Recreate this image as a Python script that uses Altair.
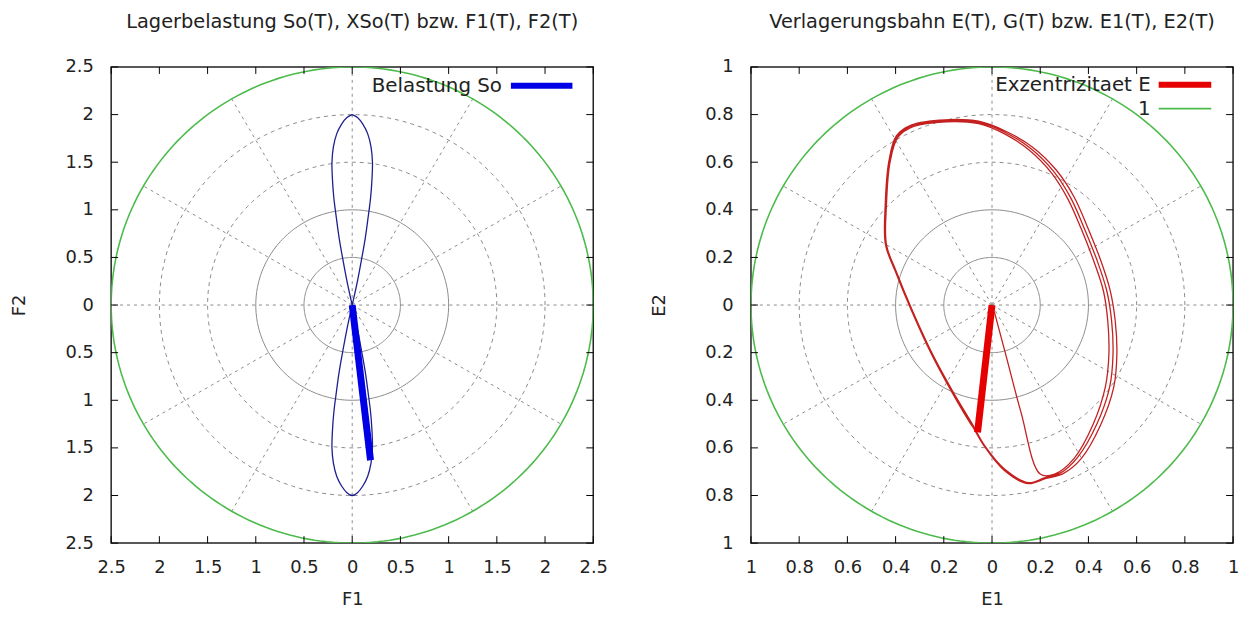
import altair as alt
import numpy as np
import pandas as pd

FONT = "DejaVu Sans"
FS = 18

# ---------------- left panel data ----------------
left_title = "Lagerbelastung So(T), XSo(T) bzw. F1(T), F2(T)"
left_ticks = [-2.5, -2, -1.5, -1, -0.5, 0, 0.5, 1, 1.5, 2, 2.5]
left_rings_solid = [0.5, 1.0]
left_rings_dashed = [1.5, 2.0]
left_outer = 2.5

so_x = [0.0, -0.055, -0.11, -0.16, -0.195, -0.21, -0.205, -0.19, -0.165, -0.135, -0.097, -0.056, -0.018, 0.0,
        0.018, 0.056, 0.097, 0.135, 0.165, 0.19, 0.205, 0.21, 0.195, 0.16, 0.11, 0.055, 0.0,
        -0.055, -0.11, -0.16, -0.195, -0.21, -0.205, -0.19, -0.165, -0.135, -0.097, -0.056, -0.018, 0.0,
        0.018, 0.056, 0.097, 0.135, 0.165, 0.19, 0.205, 0.21, 0.195, 0.16, 0.11, 0.055, 0.0]
so_y = [2.0, 1.97, 1.9, 1.8, 1.66, 1.5, 1.32, 1.12, 0.92, 0.7, 0.48, 0.26, 0.08, 0.0,
        -0.08, -0.26, -0.48, -0.7, -0.92, -1.12, -1.32, -1.5, -1.66, -1.8, -1.9, -1.97, -2.0,
        -1.97, -1.9, -1.8, -1.66, -1.5, -1.32, -1.12, -0.92, -0.7, -0.48, -0.26, -0.08, 0.0,
        0.08, 0.26, 0.48, 0.7, 0.92, 1.12, 1.32, 1.5, 1.66, 1.8, 1.9, 1.97, 2.0]
so_vec_x = [0.0, 0.19]
so_vec_y = [0.0, -1.63]

# ---------------- right panel data ----------------
right_title = "Verlagerungsbahn E(T), G(T) bzw. E1(T), E2(T)"
right_ticks = [-1, -0.8, -0.6, -0.4, -0.2, 0, 0.2, 0.4, 0.6, 0.8, 1]
right_rings_solid = [0.2, 0.4]
right_rings_dashed = [0.6, 0.8]
right_outer = 1.0

e_x = [0.01, 0.06, 0.12, 0.20,
       0.26, 0.34, 0.42, 0.47, 0.485, 0.48, 0.462, 0.422, 0.37, 0.315, 0.248, 0.155, 0.05, -0.056, -0.19,
       -0.325, -0.39, -0.423, -0.438, -0.438, -0.398, -0.33, -0.248, -0.166, -0.084, -0.029, 0.053, 0.15, 0.22,
       0.285, 0.355, 0.435, 0.488, 0.502, 0.496, 0.476, 0.436, 0.382, 0.327, 0.258, 0.162, 0.053, -0.056, -0.192,
       -0.33, -0.394, -0.426, -0.441, -0.441, -0.4, -0.332, -0.25, -0.168, -0.086, -0.03, 0.05, 0.148, 0.225,
       0.295, 0.37, 0.45, 0.505, 0.518, 0.511, 0.49, 0.45, 0.395, 0.34, 0.268, 0.17, 0.057, -0.056, -0.195,
       -0.333, -0.397, -0.428, -0.443, -0.442, -0.401, -0.333, -0.251, -0.17, -0.088, -0.062]
e_y = [-0.03, -0.22, -0.45, -0.71,
       -0.71, -0.645, -0.5, -0.345, -0.205, -0.065, 0.06, 0.185, 0.32, 0.445, 0.553, 0.65, 0.72, 0.762, 0.77,
       0.75, 0.705, 0.6, 0.42, 0.254, 0.143, -0.024, -0.204, -0.357, -0.496, -0.593, -0.69, -0.746, -0.725,
       -0.705, -0.64, -0.5, -0.345, -0.205, -0.065, 0.06, 0.187, 0.324, 0.449, 0.558, 0.656, 0.726, 0.767, 0.774,
       0.754, 0.708, 0.601, 0.421, 0.254, 0.142, -0.025, -0.206, -0.36, -0.5, -0.596, -0.694, -0.75, -0.728,
       -0.708, -0.645, -0.505, -0.345, -0.205, -0.065, 0.062, 0.19, 0.33, 0.455, 0.565, 0.662, 0.73, 0.772, 0.778,
       0.757, 0.711, 0.603, 0.422, 0.254, 0.141, -0.026, -0.207, -0.36, -0.5, -0.535]
e_vec_x = [0.0, -0.06]
e_vec_y = [0.0, -0.535]

spoke_angles = [0, 30, 60, 90, 120, 150, 180, 210, 240, 270, 300, 330]

W, H = 486, 480
GRID = "#8a8a8a"
GREEN = "#4cbb4c"


def ring_frame(radii):
    t = np.linspace(0, 2 * np.pi, 241)
    rows = []
    for r in radii:
        for i, a in enumerate(t):
            rows.append({"r": r, "i": i, "x": r * np.cos(a), "y": r * np.sin(a)})
    return pd.DataFrame(rows)


def panel(title, ticks, rsolid, rdashed, outer, cx, cy, vx, vy, thin_color, thick_color,
          xtitle, ytitle, legend):
    sc_x = alt.Scale(domain=[-outer, outer], nice=False, zero=False)
    sc_y = alt.Scale(domain=[-outer, outer], nice=False, zero=False)
    lab = "format(abs(datum.value), '~g')"
    X = alt.X("x:Q", scale=sc_x, axis=alt.Axis(values=ticks, labelExpr=lab, title=xtitle))
    Y = alt.Y("y:Q", scale=sc_y, axis=alt.Axis(values=ticks, labelExpr=lab, title=ytitle))

    layers = []
    layers.append(alt.Chart(ring_frame(rsolid)).mark_line(color=GRID, strokeWidth=1, clip=True)
                  .encode(x=X, y=Y, detail="r:N", order="i:Q"))
    layers.append(alt.Chart(ring_frame(rdashed)).mark_line(color=GRID, strokeWidth=1, strokeDash=[4, 4], clip=True)
                  .encode(x=X, y=Y, detail="r:N", order="i:Q"))
    sp = pd.DataFrame({
        "x": [0.0] * len(spoke_angles),
        "y": [0.0] * len(spoke_angles),
        "x2": [outer * np.cos(np.radians(a)) for a in spoke_angles],
        "y2": [outer * np.sin(np.radians(a)) for a in spoke_angles],
    })
    layers.append(alt.Chart(sp).mark_rule(color=GRID, strokeWidth=1, strokeDash=[3, 4], clip=True)
                  .encode(x=X, y=Y, x2="x2:Q", y2="y2:Q"))
    layers.append(alt.Chart(ring_frame([outer])).mark_line(color=GREEN, strokeWidth=1.6, clip=True)
                  .encode(x=X, y=Y, detail="r:N", order="i:Q"))
    cur = pd.DataFrame({"x": cx, "y": cy, "i": list(range(len(cx)))})
    layers.append(alt.Chart(cur).mark_line(color=thin_color, strokeWidth=1.3, clip=True,
                                           interpolate="catmull-rom")
                  .encode(x=X, y=Y, order="i:Q"))
    vec = pd.DataFrame({"x": vx, "y": vy, "i": [0, 1]})
    layers.append(alt.Chart(vec).mark_line(color=thick_color, strokeWidth=7, strokeCap="butt", clip=True)
                  .encode(x=X, y=Y, order="i:Q"))
    # inward tick marks on all four sides
    tdx = pd.DataFrame({"x": ticks})
    tdy = pd.DataFrame({"y": ticks})
    layers.append(alt.Chart(tdx).mark_rule(color="black", strokeWidth=1)
                  .encode(x=X, y=alt.value(H), y2=alt.value(H - 7)))
    layers.append(alt.Chart(tdx).mark_rule(color="black", strokeWidth=1)
                  .encode(x=X, y=alt.value(0), y2=alt.value(7)))
    layers.append(alt.Chart(tdy).mark_rule(color="black", strokeWidth=1)
                  .encode(y=Y, x=alt.value(0), x2=alt.value(7)))
    layers.append(alt.Chart(tdy).mark_rule(color="black", strokeWidth=1)
                  .encode(y=Y, x=alt.value(W), x2=alt.value(W - 7)))
    # key (gnuplot style: text then sample)
    one = pd.DataFrame({"k": [0]})
    for text, color, sw, tx, l0, l1, ly in legend:
        layers.append(alt.Chart(one).mark_text(align="right", baseline="middle", font=FONT,
                                               fontSize=20, color="#222")
                      .encode(x=alt.value(tx), y=alt.value(ly), text=alt.value(text)))
        layers.append(alt.Chart(one).mark_rule(color=color, strokeWidth=sw)
                      .encode(x=alt.value(l0), x2=alt.value(l1), y=alt.value(ly)))
    return alt.layer(*layers).properties(
        width=W, height=H,
        title=alt.TitleParams(title, font=FONT, fontSize=19.5, fontWeight="normal", color="#222", offset=26),
    )


left = panel(left_title, left_ticks, left_rings_solid, left_rings_dashed, left_outer,
             so_x, so_y, so_vec_x, so_vec_y, "#1e1e90", "#0000e6", "F1", "F2",
             [("Belastung So", "#0000e6", 6, 394, 403, 465, 19)])
right = panel(right_title, right_ticks, right_rings_solid, right_rings_dashed, right_outer,
              e_x, e_y, e_vec_x, e_vec_y, "#c42020", "#e60000", "E1", "E2",
              [("Exzentrizitaet E", "#e60000", 6, 403, 411, 464, 18),
               ("1", GREEN, 1.6, 403, 411, 464, 42)])

chart = alt.hconcat(left, right, spacing=159, bounds="flush").properties(
    padding={"left": 2, "top": 0, "right": 1, "bottom": 1}
).configure_view(stroke="#222", strokeWidth=1.5).configure_axis(
    labelFont=FONT, labelFontSize=FS, labelColor="#222",
    titleFont=FONT, titleFontSize=FS, titleFontWeight="normal", titleColor="#222",
    ticks=False, tickSize=0, domain=False, grid=False, labelOverlap=False,
    labelFlush=False, labelBound=False,
).configure_axisX(labelPadding=16, titlePadding=14).configure_axisY(labelPadding=18, titlePadding=36.5)

chart.save("out.html", embed_options={"renderer": "svg", "actions": False})
